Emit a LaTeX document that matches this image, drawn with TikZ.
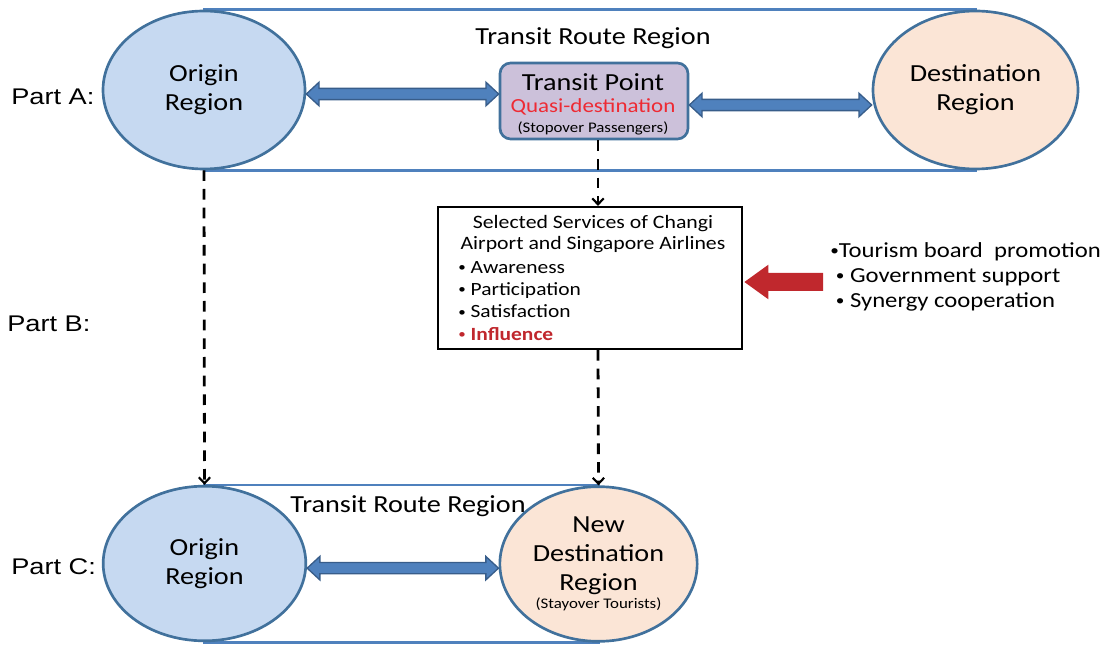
\documentclass[tikz,border=0pt]{standalone}
\usepackage{graphicx}
\usepackage{fontspec}
\setmainfont{Carlito}[FakeStretch=1.15]
\newfontfamily\arialf{Liberation Sans}[FakeStretch=1.2]
\usetikzlibrary{shapes.geometric,arrows.meta,calc,backgrounds}
\definecolor{oblue}{HTML}{C6D9F1}
\definecolor{edgeblue}{HTML}{41719C}
\definecolor{peach}{HTML}{FBE5D6}
\definecolor{lav}{HTML}{CCC1DA}
\definecolor{bandblue}{HTML}{4F81BD}
\definecolor{arrdark}{HTML}{385D8A}
\definecolor{redarrow}{HTML}{C0282D}
\definecolor{qred}{HTML}{EE2A33}
\definecolor{infred}{HTML}{C0272D}
\newcommand\sbul{\raisebox{0.1em}{\scalebox{0.7}{•}}}
\tikzset{
  region/.style={ellipse, draw=edgeblue, line width=2pt, inner sep=0pt, align=center,
    font=\fontsize{18.4}{21.75}\selectfont},
  band/.style={draw=bandblue, line width=1.8pt},
  tpbox/.style={rectangle, rounded corners=8pt, draw=edgeblue, line width=2pt, fill=lav,
    minimum width=141pt, minimum height=57pt, inner sep=0pt},
  svbox/.style={rectangle, draw=black, line width=1.6pt, fill=white,
    minimum width=228pt, minimum height=106.5pt, inner sep=0pt},
  dblarr/.style={fill=bandblue, draw=arrdark, line width=1pt, line join=miter},
  redarr/.style={fill=redarrow},
  dasharrow/.style={line width=2.1pt, dash pattern=on 8pt off 6pt,
    -{Straight Barb[length=4.5pt,width=8.5pt,line width=1.6pt]}},
  bigtxt/.style={font=\fontsize{18.4}{21.75}\selectfont, inner sep=0pt},
  parttxt/.style={font=\arialf\fontsize{17}{20}\selectfont, inner sep=0pt, anchor=west},
}
\newcommand\mydblarrow[2]{%
  \path[dblarr] let \p1=(#1), \p2=(#2) in
    (\x1,\y1) -- ++(9.5pt,8.8pt) -- ++(0,-4.6pt) -- (\x2-9.5pt,\y1+4.2pt) -- ++(0,4.6pt)
    -- (\x2,\y1) -- ++(-9.5pt,-8.8pt) -- ++(0,4.6pt) -- (\x1+9.5pt,\y1-4.2pt) -- ++(0,-4.6pt) -- cycle;}
\begin{document}
\begin{tikzpicture}[x=0.75pt,y=-0.75pt]
\useasboundingbox (0,0) rectangle (1107,645);

% Part A
\node[region, fill=oblue, minimum width=151.5pt, minimum height=118.5pt] (o1) at (204,90) {Origin\\Region};
\node[region, fill=peach, minimum width=153.75pt, minimum height=118.5pt] (d1) at (975.5,90) {Destination\\Region};
\begin{scope}[on background layer]
  \draw[band] (o1.north) rectangle (d1.south);
\end{scope}
\node[bigtxt] (trr1) at (593,38) {Transit Route Region};
\node[tpbox] (tp) at (594,101) {};
\node[bigtxt] (tpt) at (593,82) {Transit Point};
\node[inner sep=0pt, text=qred, font=\fontsize{15}{17}\selectfont] (tpq) at (593,107) {Quasi-destination};
\node[inner sep=0pt, font=\fontsize{11}{12}\selectfont] (tps) at (593,128) {(Stopover Passengers)};
\mydblarrow{[yshift=-3pt]o1.east}{[yshift=-3pt]tp.west}
\mydblarrow{[yshift=-3pt]tp.east}{[yshift=-3pt]d1.west}
\node[parttxt] (pa) at (11,97) {Part A:};

% Part B
\coordinate (mid) at (598,200);
\node[svbox] (sv) at (590,278) {};
\node[inner sep=0pt, align=center, font=\fontsize{14.2}{16}\selectfont] (svt) at (593,234)
  {Selected Services of Changi\\Airport and Singapore Airlines};
\node[inner sep=0pt, align=left, anchor=west, font=\fontsize{14}{16.6}\selectfont] (svl) at (458,301)
  {\sbul\ Awareness\\\sbul\ Participation\\\sbul\ Satisfaction\\{\color{infred}\sbul\ \textbf{Influence}}};
\draw[dasharrow] (tp.south -| mid) -- (sv.north -| mid);
\path[redarr] let \p1=(sv.east) in
  (\x1+1pt,\y1-3pt) -- ++(18pt,13pt) -- ++(0,-6.25pt) -- ++(41pt,0) -- ++(0,-13.5pt)
  -- ++(-41pt,0) -- ++(0,-6.25pt) -- cycle;
\node[inner sep=0pt, align=left, anchor=west, font=\fontsize{16.1}{18.8}\selectfont] (ext) at (830,277)
  {\sbul Tourism board\ \ promotion\\\ \sbul\ Government support\\\ \sbul\ Synergy cooperation};
\node[parttxt] (pb) at (7,324) {Part B:};

% Part C
\node[region, fill=oblue, minimum width=152pt, minimum height=116pt] (o2) at (204.5,563.5) {Origin\\Region};
\node[region, fill=peach, minimum width=148pt, minimum height=116pt] (n2) at (598.5,564)
  {New\\Destination\\Region\\[-8pt]{\fontsize{11}{12}\selectfont (Stayover Tourists)}};
\begin{scope}[on background layer]
  \draw[band] (o2.north) rectangle (n2.south);
\end{scope}
\node[bigtxt] (trr2) at (408,506) {Transit Route Region};
\mydblarrow{[yshift=-3.5pt]o2.east}{[yshift=-3.5pt]n2.west}
\node[parttxt] (pc) at (11,567) {Part C:};

\draw[dasharrow] (o1.south) -- (o2.north);
\draw[dasharrow] (sv.south -| mid) -- (n2.north);
\end{tikzpicture}
\end{document}
